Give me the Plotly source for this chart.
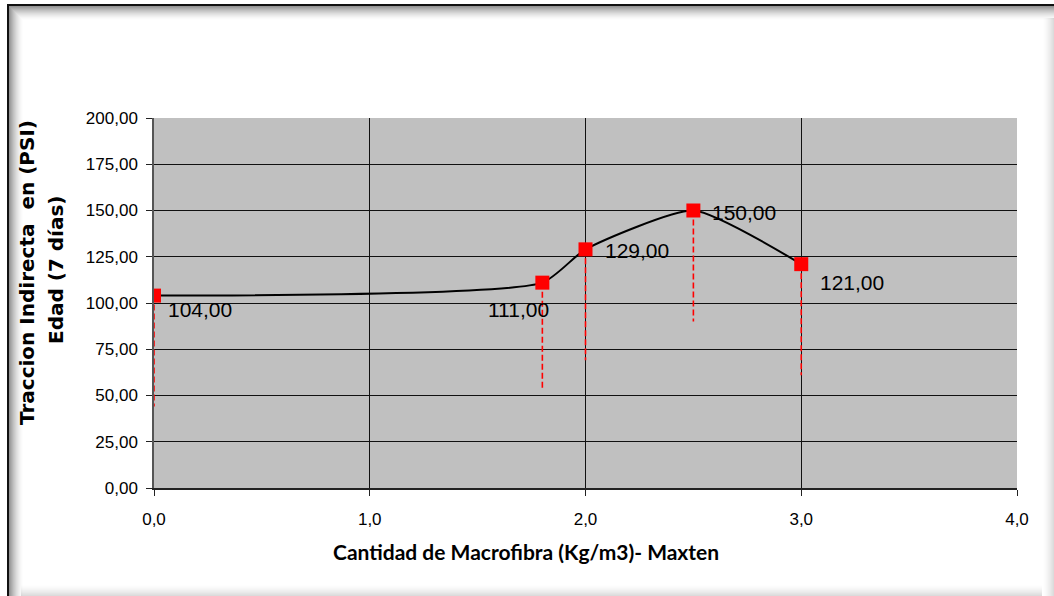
import plotly.graph_objects as go

# Fibre dosage (kg/m3) and 7-day indirect tensile strength (PSI)
dosis = [0.0, 1.8, 2.0, 2.5, 3.0]
traccion = [104.0, 111.0, 129.0, 150.0, 121.0]
# lower extent of the dashed drop lines below each point
error_inferior = [60.0, 58.0, 60.0, 60.0, 60.0]

x_ticks = [0, 1, 2, 3, 4]
x_tick_text = ["0,0", "1,0", "2,0", "3,0", "4,0"]
y_ticks = [0, 25, 50, 75, 100, 125, 150, 175, 200]
y_tick_text = ["0,00", "25,00", "50,00", "75,00", "100,00", "125,00", "150,00", "175,00", "200,00"]

W, H = 1054, 596
L, R, T, B = 154, 37, 118, 108
PW, PH = W - L - R, H - T - B


def px_x(px):
    return (px - L) / PW


def px_y(py):
    return (H - B - py) / PH


fig = go.Figure()

# gridlines on an overlay axis pair (interior lines only)
fig.add_trace(go.Scatter(x=[None], y=[None], xaxis="x2", yaxis="y2",
                         showlegend=False, hoverinfo="skip"))

# dashed red drop lines
dx, dy = [], []
for xv, yv, e in zip(dosis, traccion, error_inferior):
    dx += [xv, xv, None]
    dy += [yv, yv - e, None]
fig.add_trace(go.Scatter(x=dx, y=dy, mode="lines",
                         line=dict(color="#FF0000", width=1.6, dash="6px,3px"),
                         showlegend=False, hoverinfo="skip"))

# smoothed series line
fig.add_trace(go.Scatter(x=dosis, y=traccion, mode="lines",
                         line=dict(color="#000000", width=2, shape="spline", smoothing=0.55),
                         showlegend=False, hoverinfo="skip"))

# square markers
fig.add_trace(go.Scatter(x=dosis, y=traccion, mode="markers",
                         marker=dict(symbol="square", size=14, color="#FF0000",
                                     line=dict(width=0)),
                         showlegend=False))

# value labels
label_pos = [
    dict(xanchor="left", yanchor="middle", xshift=12, yshift=-14),
    dict(xanchor="right", yanchor="middle", xshift=9, yshift=-27),
    dict(xanchor="left", yanchor="middle", xshift=17, yshift=-1),
    dict(xanchor="left", yanchor="middle", xshift=17, yshift=-2),
    dict(xanchor="left", yanchor="middle", xshift=17, yshift=-18),
]
annotations = []
for xv, yv, p in zip(dosis, traccion, label_pos):
    annotations.append(dict(x=xv, y=yv, xref="x", yref="y", showarrow=False,
                            text=f"{yv:.2f}".replace(".", ","),
                            font=dict(family="Liberation Sans, Arial", size=21, color="#000"),
                            **p))

# axis titles
annotations.append(dict(x=px_x(526), y=px_y(551), xref="paper", yref="paper",
                        showarrow=False, text="<b>Cantidad de Macrofibra (Kg/m3)- Maxten</b>",
                        font=dict(family="Lato", size=21, color="#000"),
                        xanchor="center", yanchor="middle"))
annotations.append(dict(x=px_x(27), y=px_y(273), xref="paper", yref="paper",
                        showarrow=False, text="<b>Traccion Indirecta&nbsp; en (PSI)</b>",
                        textangle=-90,
                        font=dict(family="DejaVu Sans", size=20, color="#000"),
                        xanchor="center", yanchor="middle"))
annotations.append(dict(x=px_x(56), y=px_y(270), xref="paper", yref="paper",
                        showarrow=False, text="<b>Edad (7 días)</b>",
                        textangle=-90,
                        font=dict(family="DejaVu Sans", size=20, color="#000"),
                        xanchor="center", yanchor="middle"))

# frame with inner shadow around the whole chart
shapes = []
fr_l, fr_t, fr_r, fr_b = 7, 4, 1060, 602
for i in range(14):
    a = 0.42 * (1 - i / 14) ** 1.6
    shapes.append(dict(type="rect", xref="paper", yref="paper",
                       x0=px_x(fr_l + 2 + i), x1=px_x(fr_l + 3 + i),
                       y0=px_y(fr_t + 2 + i), y1=px_y(fr_b),
                       line=dict(width=0), fillcolor=f"rgba(0,0,0,{a:.3f})", layer="above"))
    shapes.append(dict(type="rect", xref="paper", yref="paper",
                       x0=px_x(fr_l + 3 + i), x1=px_x(fr_r),
                       y0=px_y(fr_t + 2 + i), y1=px_y(fr_t + 3 + i),
                       line=dict(width=0), fillcolor=f"rgba(0,0,0,{a:.3f})", layer="above"))
for i in range(12):
    a = 0.16 * (i / 12) ** 1.5
    shapes.append(dict(type="rect", xref="paper", yref="paper",
                       x0=px_x(W - 12 + i), x1=px_x(W - 11 + i),
                       y0=px_y(fr_t + 14), y1=px_y(H),
                       line=dict(width=0), fillcolor=f"rgba(0,0,0,{a:.3f})", layer="above"))
    shapes.append(dict(type="rect", xref="paper", yref="paper",
                       x0=px_x(fr_l + 14), x1=px_x(W - 12),
                       y0=px_y(H - 12 + i), y1=px_y(H - 11 + i),
                       line=dict(width=0), fillcolor=f"rgba(0,0,0,{a:.3f})", layer="above"))
shapes.append(dict(type="line", xref="paper", yref="paper",
                   x0=px_x(fr_l + 1), x1=px_x(fr_l + 1), y0=px_y(fr_t), y1=px_y(H),
                   line=dict(color="#111", width=2), layer="above"))
shapes.append(dict(type="line", xref="paper", yref="paper",
                   x0=px_x(fr_l), x1=px_x(W), y0=px_y(fr_t + 1), y1=px_y(fr_t + 1),
                   line=dict(color="#111", width=2), layer="above"))

tick_font = dict(family="Liberation Sans, Arial", size=17, color="#000")

fig.update_layout(
    width=W, height=H,
    margin=dict(l=L, r=R, t=T, b=B),
    paper_bgcolor="#FFFFFF",
    plot_bgcolor="#C0C0C0",
    showlegend=False,
    xaxis=dict(range=[0, 4], tickvals=x_ticks, ticktext=x_tick_text,
               showgrid=False, zeroline=False, showline=True, linecolor="#222", linewidth=1.5,
               ticks="outside", ticklen=6, tickcolor="#222", tickfont=tick_font,
               ticklabelstandoff=9),
    yaxis=dict(range=[0, 200], tickvals=y_ticks, ticktext=y_tick_text,
               showgrid=False, zeroline=False, showline=True, linecolor="#555", linewidth=1.5,
               ticks="outside", ticklen=6, tickcolor="#222", tickfont=tick_font,
               ticklabelstandoff=5),
    xaxis2=dict(range=[0, 4], overlaying="x", tickvals=[1, 2, 3], showgrid=True,
                gridcolor="#111", gridwidth=1, showticklabels=False, ticks="",
                zeroline=False, showline=False),
    yaxis2=dict(range=[0, 200], overlaying="y", tickvals=[25, 50, 75, 100, 125, 150, 175],
                showgrid=True, gridcolor="#111", gridwidth=1, showticklabels=False,
                ticks="", zeroline=False, showline=False),
    annotations=annotations,
    shapes=shapes,
)

fig.write_html("out.html")
